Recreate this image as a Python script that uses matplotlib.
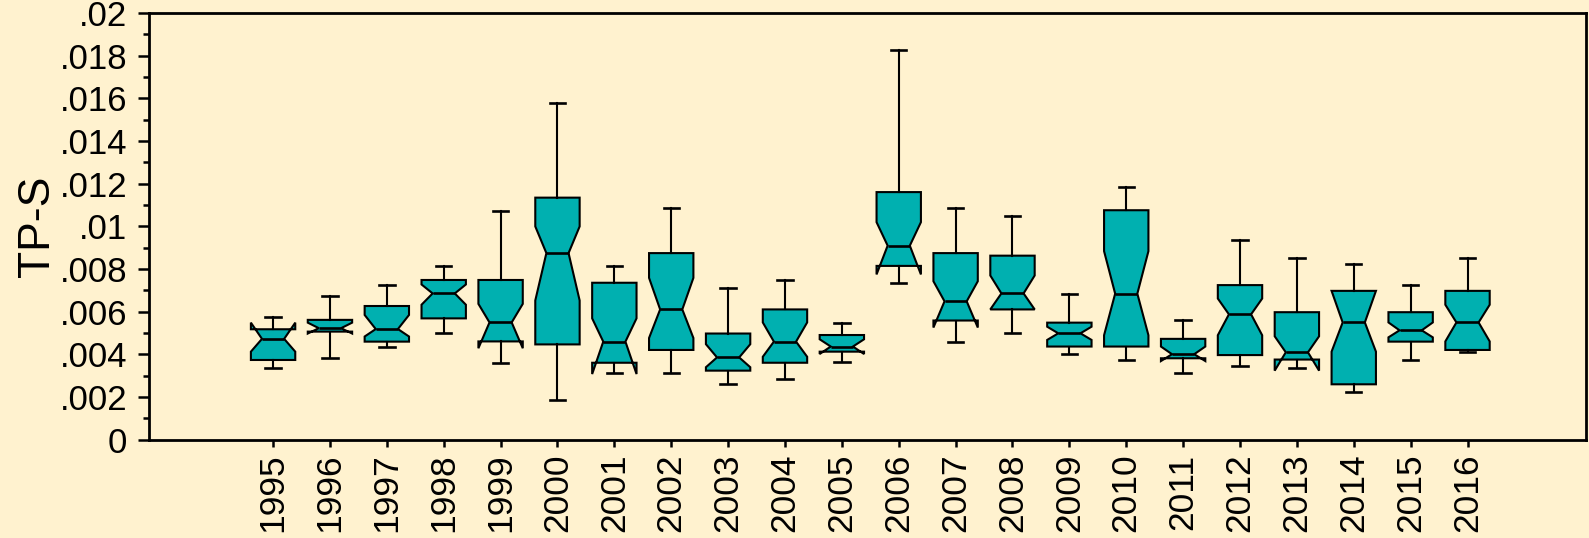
import matplotlib
matplotlib.use("Agg")
import matplotlib.pyplot as plt
from matplotlib.ticker import MultipleLocator, FuncFormatter

years = [str(y) for y in range(1995, 2017)]
# values in units of 0.001
whis_hi = [5.76, 6.74, 7.24, 8.13, 10.73, 15.77, 8.13, 10.86, 7.10, 7.47, 5.48,
           18.25, 10.86, 10.47, 6.84, 11.86, 5.61, 9.35, 8.50, 8.22, 7.24, 8.50]
q3 = [5.17, 5.61, 6.26, 7.48, 7.48, 11.34, 7.35, 8.74, 4.97, 6.10, 4.90,
      11.60, 8.74, 8.62, 5.48, 10.75, 4.72, 7.24, 5.97, 6.97, 5.97, 6.97]
ci_hi = [5.48, 5.48, 5.84, 7.27, 6.36, 9.99, 5.68, 7.58, 4.47, 5.49, 4.70,
         10.19, 7.42, 7.69, 5.29, 8.83, 4.36, 6.61, 4.84, 6.97, 5.49, 6.32]
median = [4.72, 5.22, 5.18, 6.85, 5.49, 8.74, 4.59, 6.10, 3.85, 4.59, 4.36,
          9.09, 6.48, 6.85, 4.98, 6.84, 4.00, 5.87, 4.09, 5.49, 5.12, 5.49]
ci_lo = [4.12, 4.97, 4.83, 6.32, 4.28, 6.52, 3.07, 4.76, 3.39, 3.88, 4.01,
         7.74, 5.25, 6.10, 4.67, 4.89, 3.68, 4.89, 3.23, 4.12, 4.79, 4.60]
q1 = [3.73, 5.06, 4.59, 5.68, 4.60, 4.46, 3.60, 4.20, 3.23, 3.60, 4.12,
      8.14, 5.58, 6.10, 4.36, 4.36, 3.81, 3.96, 3.75, 2.59, 4.59, 4.20]
whis_lo = [3.34, 3.84, 4.36, 4.99, 3.60, 1.85, 3.11, 3.11, 2.59, 2.85, 3.62,
           7.34, 4.59, 4.99, 4.00, 3.73, 3.14, 3.46, 3.35, 2.22, 3.72, 4.09]

scale = 0.001
stats = []
for i, y in enumerate(years):
    stats.append(dict(label=y,
                      med=median[i] * scale, q1=q1[i] * scale, q3=q3[i] * scale,
                      whislo=whis_lo[i] * scale, whishi=whis_hi[i] * scale,
                      cilo=ci_lo[i] * scale, cihi=ci_hi[i] * scale, fliers=[]))

plt.rcParams['font.family'] = ['Liberation Sans', 'DejaVu Sans']

bg = '#FFF2CF'
fig = plt.figure(figsize=(15.89, 5.38), dpi=100, facecolor=bg)
ax = fig.add_axes([0.094, 0.183, 0.904, 0.793])
ax.set_facecolor(bg)

pos = list(range(len(years)))
ax.bxp(stats, positions=pos, widths=0.78, shownotches=True, patch_artist=True,
       showfliers=False, capwidths=0.27,
       boxprops=dict(facecolor='#00B0B0', edgecolor='black', linewidth=1.5),
       medianprops=dict(color='black', linewidth=1.9),
       whiskerprops=dict(color='black', linewidth=1.5),
       capprops=dict(color='black', linewidth=1.9))

ax.set_xlim(-2.175, 23.08)
ax.set_ylim(0, 0.02)
ax.set_xticks(pos)
ax.set_xticklabels(years, rotation=90, fontsize=25.5)
ax.yaxis.set_major_locator(MultipleLocator(0.002))
ax.yaxis.set_minor_locator(MultipleLocator(0.001))


def fmt(v, p):
    s = f"{v:.3f}".rstrip('0').rstrip('.')
    if s.startswith('0.'):
        s = s[1:]
    return s


ax.yaxis.set_major_formatter(FuncFormatter(fmt))
ax.tick_params(axis='y', which='major', labelsize=25, length=8, width=1.8, direction='out', pad=8)
ax.tick_params(axis='y', which='minor', length=4.5, width=1.8, direction='out')
ax.tick_params(axis='x', which='major', length=5, width=1.8, direction='out', pad=5)
for sp in ax.spines.values():
    sp.set_linewidth(2)
ax.set_ylabel('TP-S', fontsize=32, labelpad=1)

fig.savefig('out.png', dpi=100, facecolor=bg)
